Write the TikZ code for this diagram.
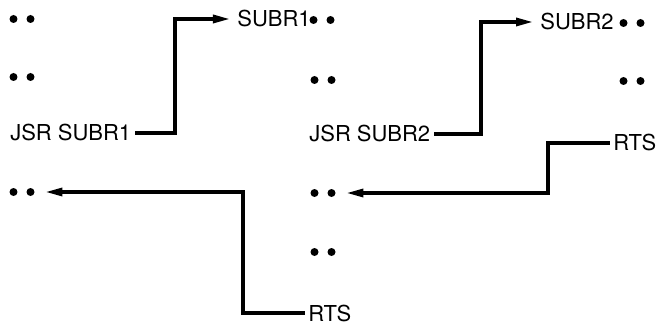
\documentclass[tikz,border=0pt]{standalone}
\usepackage{fontspec}
\setmainfont{TeX Gyre Heros}
\usetikzlibrary{arrows.meta}

\begin{document}
\begin{tikzpicture}[x=0.02cm, y=-0.02cm,
        >={Triangle[length=0.34cm, width=0.16cm]},
        testo/.style={inner xsep=2pt, inner ysep=0pt, anchor=base west, font=\fontsize{12.5}{15}\selectfont},
        punto/.style={circle, fill, inner sep=0pt, minimum size=0.16cm},
        salto/.style={->, line width=1.8pt, shorten >=2pt},
        ritorno/.style={->, line width=1.8pt, shorten >=6pt}]

        \useasboundingbox (0,0) rectangle (658,324);

        % Coppie di puntini (istruzioni omesse)
        \foreach \n/\x/\y in {p11/22/19, p12/22/77, p14/22/192,
                               q1/322/20, p22/323/80, p24/323/193, p25/323/252,
                               q2/632/23, p32/632/81} {
            \node[punto] (\n a) at (\x-8.5,\y) {};
            \node[punto] (\n b) at (\x+8.5,\y) {};
        }

        % Programma principale
        \node[testo] (jsr1) at (6.5,141) {JSR SUBR1};

        % Sottoprogramma SUBR1
        \node[testo] (subr1) at (233.5,27) {SUBR1};
        \node[testo] (jsr2) at (305.5,142) {JSR SUBR2};
        \node[testo] (rts2) at (304.5,321) {RTS};

        % Sottoprogramma SUBR2
        \node[testo] (subr2) at (536.5,30) {SUBR2};
        \node[testo] (rts1) at (609.5,151) {RTS};

        % Ascisse dei gomiti
        \coordinate (k1) at (175,0);
        \coordinate (k2) at (481,0);
        \coordinate (k3) at (548,0);
        \coordinate (k4) at (243,0);

        % Chiamate
        \draw[salto] (jsr1.east) -- (jsr1.east -| k1) |- (subr1.west);
        \draw[salto] (jsr2.east) -- (jsr2.east -| k2) |- (subr2.west);

        % Ritorni
        \draw[ritorno] (rts1.west) -- (rts1.west -| k3) |- (p24b.east);
        \draw[ritorno] (rts2.west) -- (rts2.west -| k4) |- (p14b.east);

\end{tikzpicture}
\end{document}
